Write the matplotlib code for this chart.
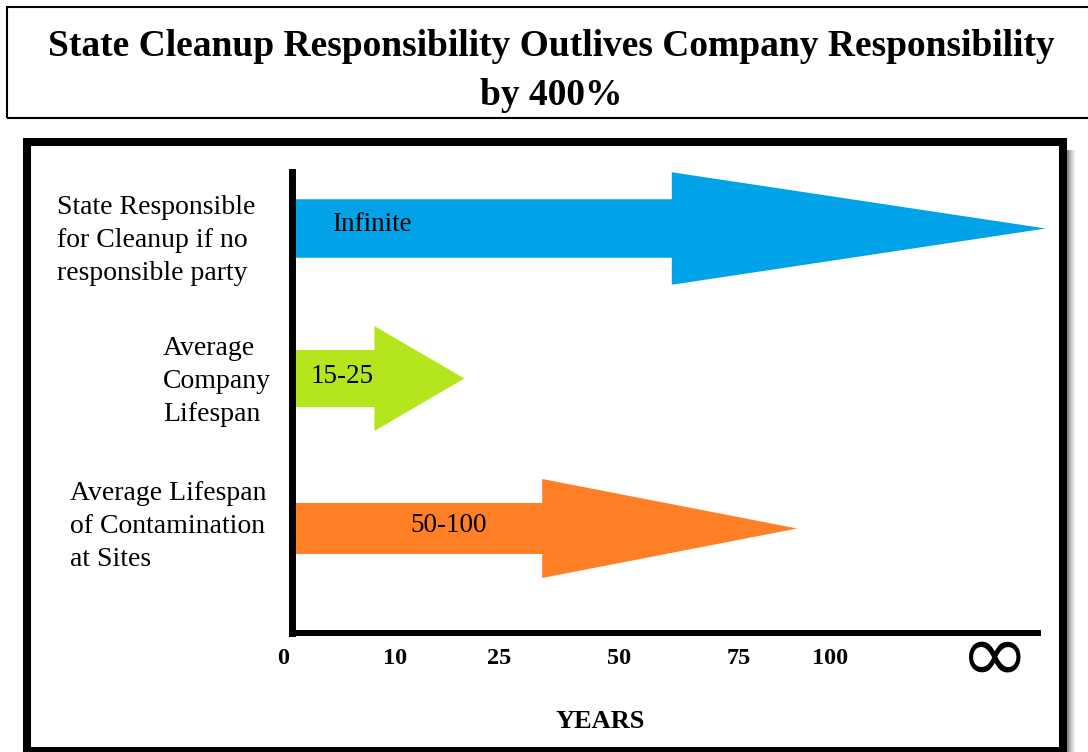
import numpy as np
import matplotlib.pyplot as plt
from matplotlib.patches import Rectangle
from matplotlib import transforms

plt.rcParams['font.family'] = ['Liberation Serif', 'DejaVu Serif']

# ---------- data ----------
categories = ['State Responsible\nfor Cleanup if no\nresponsible party',
              'Average\nCompany\nLifespan',
              'Average Lifespan\nof Contamination\nat Sites']
arrow_labels = ['Infinite', '15-25', '50-100']
head_start_years = [61, 8, 34]     # where the arrow head begins
tip_years = [178, 20, 91]          # 178 -> runs past the "infinity" mark
tick_years = [0, 10, 25, 50, 75, 100]
tick_labels = ['0', '10', '25', '50', '75', '100']
INF_YEARS = 160                    # stand-in value for the infinity tick

# ---------- style ----------
W, H = 1088, 752
colors = ['#00A2E8', '#B5E61D', '#FF7F27']
shaft_w = [0.39, 0.38, 0.34]
head_w = [0.75, 0.70, 0.66]
label_dx_px = [40, 19, 118]
label_dy_px = [4, 2, 3]
cat_x_px = [57, 163, 70]
cat_dy_px = [-12, -3, 2]

# hand drawn axis: ticks are not evenly spaced in years
knot_years = [0, 10, 25, 50, 75, 100, INF_YEARS, 200]
knot_pos = [0, 103, 207, 327, 447, 538, 703, 816]


def fwd(x):
    return np.interp(x, knot_years, knot_pos)


def inv(p):
    return np.interp(p, knot_pos, knot_years)


fig = plt.figure(figsize=(W / 100, H / 100), dpi=100)

ax_left, ax_right, ax_top, ax_bot = 292, 1038, 172, 633
ax = fig.add_axes([ax_left / W, 1 - ax_bot / H, (ax_right - ax_left) / W, (ax_bot - ax_top) / H])
ax.set_xscale('function', functions=(fwd, inv))
ax.set_xlim(0, inv(ax_right - ax_left))
ax.set_ylim(-104.5 / 150, -104.5 / 150 + (ax_bot - ax_top) / 150)

ypos = [2, 1, 0]
for i in range(3):
    y = ypos[i]
    hs, tip = head_start_years[i], tip_years[i]
    sw, hw = shaft_w[i] / 2, head_w[i] / 2
    xs = [0, hs, hs, tip, hs, hs, 0]
    ys = [y - sw, y - sw, y - hw, y, y + hw, y + sw, y + sw]
    ax.fill(xs, ys, color=colors[i], lw=0, clip_on=False, zorder=1)
    ax.annotate(arrow_labels[i], xy=(0, y), xytext=(label_dx_px[i] * 0.72, label_dy_px[i] * 0.72),
                textcoords='offset points', ha='left', va='center', fontsize=19.5, color='black')
    ax.annotate(categories[i], xy=(0, y),
                xytext=((cat_x_px[i] - ax_left) * 0.72, cat_dy_px[i] * 0.72),
                textcoords='offset points', ha='left', va='center', fontsize=20,
                linespacing=1.42, annotation_clip=False)

for s in ['top', 'right']:
    ax.spines[s].set_visible(False)
ax.spines['left'].set_linewidth(5)
ax.spines['left'].set_capstyle('projecting')
ax.spines['bottom'].set_linewidth(4.3)
ax.set_yticks([])
ax.set_xticks(tick_years + [INF_YEARS])
ax.set_xticklabels(tick_labels + ['\u221e'])
ax.tick_params(axis='x', length=0, pad=11, labelsize=17.5)
for lbl in ax.get_xticklabels():
    lbl.set_fontweight('bold')
xl = ax.get_xticklabels()
xl[0].set_transform(xl[0].get_transform() + transforms.ScaledTranslation(-9 / 100, 0, fig.dpi_scale_trans))
xl[-1].set_fontfamily('DejaVu Sans')
xl[-1].set_fontweight('normal')
xl[-1].set_fontsize(60)
xl[-1].set_transform(xl[-1].get_transform() + transforms.ScaledTranslation(0, 31 / 100, fig.dpi_scale_trans))

ax.text((600 - ax_left) / (ax_right - ax_left), (ax_bot - 722) / (ax_bot - ax_top), 'YEARS',
        transform=ax.transAxes, ha='center', va='center', fontsize=19, fontweight='bold')

# title box
fig.add_artist(Rectangle((7 / W, 1 - 118 / H), 1.1, 111 / H, fill=False, lw=1.5,
                         edgecolor='black', transform=fig.transFigure))
fig.text(551 / W, 1 - 71 / H, 'State Cleanup Responsibility Outlives Company Responsibility\nby 400%',
         ha='center', va='center', fontsize=27, fontweight='bold', linespacing=1.55)

# chart frame with a soft shadow on the right
for k, g in enumerate([0.55, 0.7, 0.82, 0.92]):
    fig.add_artist(Rectangle(((1067 + 2 * k) / W, 0), 2 / W, 1 - 150 / H, color=str(g), lw=0,
                             transform=fig.transFigure, zorder=0))
fig.add_artist(Rectangle((27 / W, 1 - 751 / H), (1063 - 27) / W, (751 - 142) / H, fill=False,
                         lw=5.8, edgecolor='black', transform=fig.transFigure))

fig.savefig('out.png', dpi=100)
